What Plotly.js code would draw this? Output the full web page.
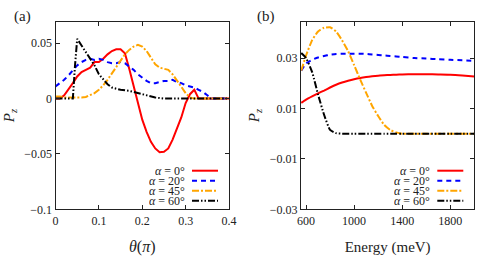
<!DOCTYPE html>
<html>
<head>
<meta charset="utf-8">
<script src="https://cdn.plot.ly/plotly-3.0.1.min.js"></script>
<style>html,body{margin:0;padding:0;background:#fff;}#chart{width:491px;height:260px;}</style>
</head>
<body>
<div id="chart"></div>
<script>
// ---------- Panel (a): P_z vs theta (units of pi) ----------
const thetaA0 = [0, 0.01, 0.02, 0.03, 0.04, 0.05, 0.06, 0.07, 0.08, 0.09, 0.10, 0.11, 0.12, 0.13, 0.14, 0.15, 0.16, 0.17, 0.18, 0.19, 0.20, 0.21, 0.22, 0.23, 0.24, 0.25, 0.26, 0.27, 0.28, 0.29, 0.30, 0.31, 0.32, 0.33, 0.34, 0.40];
const pzA0    = [0, 0, 0.003, 0.008, 0.014, 0.020, 0.024, 0.026, 0.028, 0.033, 0.033, 0.036, 0.040, 0.043, 0.0445, 0.0445, 0.041, 0.027, 0.011, -0.005, -0.019, -0.030, -0.039, -0.045, -0.0485, -0.048, -0.045, -0.037, -0.027, -0.017, -0.004, 0.004, 0.008, 0, 0, 0];

const thetaA20 = [0, 0.01, 0.02, 0.03, 0.04, 0.05, 0.06, 0.07, 0.08, 0.09, 0.10, 0.11, 0.12, 0.13, 0.14, 0.15, 0.16, 0.17, 0.18, 0.19, 0.20, 0.21, 0.22, 0.23, 0.24, 0.25, 0.26, 0.27, 0.28, 0.29, 0.30, 0.31, 0.32, 0.33, 0.34, 0.35, 0.36, 0.40];
const pzA20    = [0.011, 0.014, 0.017, 0.021, 0.026, 0.030, 0.033, 0.035, 0.036, 0.035, 0.036, 0.035, 0.033, 0.032, 0.032, 0.033, 0.032, 0.029, 0.026, 0.022, 0.019, 0.016, 0.014, 0.014, 0.015, 0.016, 0.016, 0.017, 0.015, 0.014, 0.012, 0.011, 0.010, 0.008, 0.006, 0.003, 0, 0];

const thetaA45 = [0, 0.01, 0.02, 0.03, 0.04, 0.05, 0.06, 0.07, 0.08, 0.09, 0.10, 0.11, 0.12, 0.13, 0.14, 0.15, 0.16, 0.17, 0.18, 0.19, 0.20, 0.21, 0.22, 0.23, 0.24, 0.25, 0.26, 0.27, 0.28, 0.29, 0.30, 0.31, 0.32, 0.40];
const pzA45    = [0.002, 0.002, 0.001, 0.001, 0.0005, 0.0005, 0.001, 0.0015, 0.003, 0.005, 0.008, 0.012, 0.017, 0.023, 0.029, 0.035, 0.040, 0.044, 0.047, 0.0485, 0.047, 0.043, 0.037, 0.031, 0.028, 0.027, 0.026, 0.022, 0.016, 0.010, 0.005, 0.001, 0, 0];

const thetaA60 = [0, 0.04, 0.045, 0.05, 0.06, 0.07, 0.08, 0.09, 0.10, 0.11, 0.12, 0.13, 0.14, 0.15, 0.17, 0.19, 0.21, 0.23, 0.25, 0.27, 0.40];
const pzA60    = [0, 0, 0.030, 0.054, 0.048, 0.042, 0.036, 0.030, 0.022, 0.017, 0.013, 0.010, 0.009, 0.008, 0.007, 0.005, 0.003, 0.001, 0, 0, 0];

// ---------- Panel (b): P_z vs Energy (meV) ----------
const energyB = [560, 600, 650, 700, 750, 800, 850, 900, 950, 1000, 1050, 1100, 1150, 1200, 1250, 1300, 1350, 1400, 1500, 1600, 1700, 1800, 1900, 2000];
const pzB0  = [0.0122, 0.0135, 0.0148, 0.0160, 0.0171, 0.0183, 0.0194, 0.0203, 0.0210, 0.0216, 0.0221, 0.0225, 0.0228, 0.0230, 0.0232, 0.0233, 0.0234, 0.0235, 0.0236, 0.0236, 0.0235, 0.0234, 0.0231, 0.0227];
const pzB20 = [0.0250, 0.0278, 0.0293, 0.0302, 0.0308, 0.0313, 0.0316, 0.0317, 0.0317, 0.0317, 0.0317, 0.0316, 0.0314, 0.0312, 0.0310, 0.0308, 0.0306, 0.0304, 0.0300, 0.0298, 0.0295, 0.0293, 0.0291, 0.0289];
const pzB45 = [0.025, 0.031, 0.037, 0.0405, 0.0420, 0.0422, 0.0405, 0.0370, 0.0327, 0.0272, 0.0215, 0.0162, 0.0110, 0.0070, 0.0035, 0.0015, 0.0005, 0, 0, 0, 0, 0, 0, 0];
const pzB60 = [0.032, 0.0300, 0.0245, 0.0155, 0.0075, 0.0015, 0.0002, 0, 0, 0, 0, 0, 0, 0, 0, 0, 0, 0, 0, 0, 0, 0, 0, 0];

// ---------- labels ----------
const seriesNames = ['<i>α</i> = 0°', '<i>α</i> = 20°', '<i>α</i> = 45°', '<i>α</i> = 60°'];
const thetaTicks = [0, 0.1, 0.2, 0.3, 0.4];
const thetaTickText = ['0', '0.1', '0.2', '0.3', '0.4'];
const pzATicks = [-0.1, -0.05, 0, 0.05];
const pzATickText = ['\u22120.1', '\u22120.05', '0', '0.05'];
const energyTicks = [600, 1000, 1400, 1800];
const energyTickText = ['600', '1000', '1400', '1800'];
const pzBTicks = [-0.03, -0.01, 0.01, 0.03];
const pzBTickText = ['\u22120.03', '\u22120.01', '0.01', '0.03'];

const styles = [
  {color: '#ff0000', width: 2, dash: 'solid'},
  {color: '#0000ff', width: 2, dash: '5px,4px'},
  {color: '#ffa500', width: 2, dash: '7px,2px,2px,2px'},
  {color: '#000000', width: 2, dash: '7px,2px,1.5px,2px,1.5px,2px'}
];

const aX = [thetaA0, thetaA20, thetaA45, thetaA60];
const aY = [pzA0, pzA20, pzA45, pzA60];
const bY = [pzB0, pzB20, pzB45, pzB60];

const traces = [];
for (let i = 0; i < 4; i++) {
  traces.push({x: aX[i], y: aY[i], mode: 'lines', name: seriesNames[i], line: Object.assign({}, styles[i]), xaxis: 'x', yaxis: 'y', showlegend: false});
}
for (let i = 0; i < 4; i++) {
  traces.push({x: energyB, y: bY[i], mode: 'lines', name: seriesNames[i], line: Object.assign({shape: 'spline', smoothing: 0.5}, styles[i]), xaxis: 'x2', yaxis: 'y2', showlegend: false});
}

const W = 491, H = 260;
const FONT = 'Liberation Serif, DejaVu Serif, serif';
const axisCommon = {
  showline: true, mirror: 'ticks', linecolor: '#222', linewidth: 1,
  ticks: 'inside', ticklen: 4, tickwidth: 1, tickcolor: '#222',
  showgrid: false, zeroline: false,
  tickfont: {family: FONT, size: 12, color: '#222'}
};
const yDom = [(H - 209.3) / H, (H - 21.7) / H];

const annotations = [];
const shapes = [];
// panel labels
annotations.push({text: '(a)', xref: 'paper', yref: 'paper', x: 22 / W, y: (H - 16) / H, xanchor: 'center', yanchor: 'middle', showarrow: false, font: {family: FONT, size: 15, color: '#222'}});
annotations.push({text: '(b)', xref: 'paper', yref: 'paper', x: 266 / W, y: (H - 16) / H, xanchor: 'center', yanchor: 'middle', showarrow: false, font: {family: FONT, size: 15, color: '#222'}});

// in-plot legends (text right-aligned, sample on the right)
const legRows = [170.7, 180.7, 190.7, 200.7];
const legPanels = [{textRight: 185.5, l0: 192, l1: 218}, {textRight: 430.7, l0: 437.3, l1: 463.3}];
legPanels.forEach(p => {
  for (let i = 0; i < 4; i++) {
    const yp = (H - legRows[i]) / H;
    annotations.push({text: seriesNames[i], xref: 'paper', yref: 'paper', x: p.textRight / W, y: yp, xanchor: 'right', yanchor: 'middle', height: 10, valign: 'middle', borderpad: 0, showarrow: false, font: {family: FONT, size: 12, color: '#222'}});
    shapes.push({type: 'line', xref: 'paper', yref: 'paper', x0: p.l0 / W, x1: p.l1 / W, y0: yp, y1: yp, line: Object.assign({}, styles[i])});
  }
});

const layout = {
  width: W, height: H,
  margin: {l: 0, r: 0, t: 0, b: 0},
  paper_bgcolor: '#fff', plot_bgcolor: '#fff',
  font: {family: FONT, color: '#222'},
  xaxis: Object.assign({}, axisCommon, {
    domain: [55.5 / W, 229 / W], range: [0, 0.4], anchor: 'y',
    tickvals: thetaTicks, ticktext: thetaTickText,
    title: {text: '<i>θ</i>(<i>π</i>)', font: {family: FONT, size: 16, color: '#222'}, standoff: 14}
  }),
  yaxis: Object.assign({}, axisCommon, {
    domain: yDom, range: [-0.1, 0.0695], anchor: 'x',
    tickvals: pzATicks, ticktext: pzATickText,
    title: {text: '<i>P</i><sub><i>z</i></sub>', font: {family: FONT, size: 15, color: '#222'}, standoff: 6}
  }),
  xaxis2: Object.assign({}, axisCommon, {
    domain: [301 / W, 474.3 / W], range: [558, 2000], anchor: 'y2',
    tickvals: energyTicks, ticktext: energyTickText,
    title: {text: 'Energy (meV)', font: {family: FONT, size: 15, color: '#222'}, standoff: 14}
  }),
  yaxis2: Object.assign({}, axisCommon, {
    domain: yDom, range: [-0.03, 0.0444], anchor: 'x2',
    tickvals: pzBTicks, ticktext: pzBTickText,
    title: {text: '<i>P</i><sub><i>z</i></sub>', font: {family: FONT, size: 15, color: '#222'}, standoff: 6}
  }),
  annotations: annotations,
  shapes: shapes,
  showlegend: false
};

Plotly.newPlot('chart', traces, layout, {displayModeBar: false, staticPlot: true});
</script>
</body>
</html>
